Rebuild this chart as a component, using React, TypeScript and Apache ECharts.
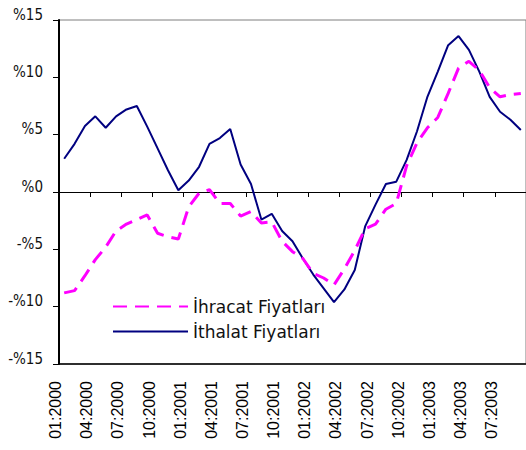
import React, { useEffect, useRef } from "react";
import * as echarts from "echarts";

const categories = [
  "01:2000","02:2000","03:2000","04:2000","05:2000","06:2000","07:2000","08:2000","09:2000","10:2000","11:2000","12:2000",
  "01:2001","02:2001","03:2001","04:2001","05:2001","06:2001","07:2001","08:2001","09:2001","10:2001","11:2001","12:2001",
  "01:2002","02:2002","03:2002","04:2002","05:2002","06:2002","07:2002","08:2002","09:2002","10:2002","11:2002","12:2002",
  "01:2003","02:2003","03:2003","04:2003","05:2003","06:2003","07:2003","08:2003","09:2003",
];

const ihracat = [
  -8.8, -8.6, -7.3, -5.9, -4.8, -3.4, -2.8, -2.4, -2.0, -3.6, -3.9, -4.1,
  -1.3, -0.1, 0.2, -1.0, -1.0, -2.1, -1.7, -2.7, -2.6, -4.3, -5.2, -5.8,
  -7.1, -7.5, -8.1, -6.7, -5.1, -3.2, -2.8, -1.5, -1.0, 2.3, 4.3, 5.6,
  6.5, 8.6, 10.8, 11.4, 10.6, 9.1, 8.3, 8.5, 8.6,
];

const ithalat = [
  2.9, 4.2, 5.75, 6.6, 5.6, 6.6, 7.2, 7.5, 5.7, 3.8, 1.9, 0.15,
  1.0, 2.2, 4.2, 4.7, 5.5, 2.4, 0.7, -2.4, -1.9, -3.4, -4.3, -5.8,
  -7.2, -8.4, -9.6, -8.5, -6.8, -3.0, -1.1, 0.7, 0.9, 2.8, 5.3, 8.3,
  10.5, 12.8, 13.6, 12.4, 10.5, 8.3, 7.0, 6.3, 5.4,
];

const seriesNames = ["İhracat Fiyatları", "İthalat Fiyatları"];
const yTicks = { min: -15, max: 15, interval: 5 };

export default function App() {
  const ref = useRef<HTMLDivElement>(null);
  useEffect(() => {
    if (!ref.current) return;
    const chart = echarts.init(ref.current, null, { renderer: "svg" });
    chart.setOption({
      animation: false,
      backgroundColor: "#ffffff",
      grid: {
        left: 59,
        top: 20,
        width: 469.5,
        height: 344,
        show: true,
        borderColor: "#7f7f7f",
        borderWidth: 1,
        backgroundColor: "transparent",
      },
      legend: {
        orient: "vertical",
        left: 107,
        top: 293,
        itemWidth: 75,
        itemHeight: 14,
        itemGap: 8,
        data: seriesNames,
        itemStyle: { opacity: 0, borderWidth: 0 },
        textStyle: {
          fontFamily: "'DejaVu Sans', sans-serif",
          fontSize: 17,
          color: "#111",
        },
      },
      xAxis: [
        {
          type: "category",
          data: categories,
          position: "bottom",
          boundaryGap: true,
          axisLine: { onZero: false, lineStyle: { color: "#000", width: 1.5 } },
          axisTick: { show: false },
          axisLabel: {
            interval: 2,
            rotate: 90,
            margin: 17,
            fontFamily: "'Liberation Sans', Arial, sans-serif",
            fontSize: 16,
            color: "#000",
            verticalAlign: "bottom",
            lineHeight: 17,
          },
          splitLine: { show: false },
        },
        {
          type: "category",
          data: categories,
          position: "top",
          boundaryGap: true,
          axisLine: { onZero: true, lineStyle: { color: "#000", width: 1 } },
          axisTick: {
            show: true,
            interval: 2,
            inside: true,
            length: 5,
            lineStyle: { color: "#000", width: 1 },
          },
          axisLabel: { show: false },
          splitLine: { show: false },
        },
      ],
      yAxis: {
        type: "value",
        min: yTicks.min,
        max: yTicks.max,
        interval: yTicks.interval,
        axisLine: { show: true, lineStyle: { color: "#000", width: 2 } },
        axisTick: { show: true, length: 6, lineStyle: { color: "#000", width: 1 } },
        splitLine: { show: false },
        axisLabel: {
          margin: 16,
          fontFamily: "'DejaVu Sans Condensed', 'DejaVu Sans', sans-serif",
          fontSize: 15,
          color: "#111",
          verticalAlign: "bottom",
          lineHeight: 11,
          formatter: (v: number) => (v >= 0 ? `%${v}` : `-%${-v}`),
        },
      },
      series: [
        {
          name: seriesNames[0],
          type: "line",
          data: ihracat,
          xAxisIndex: 0,
          showSymbol: false,
          symbol: "none",
          lineStyle: { color: "#ff00ff", width: 3, type: [14, 8] },
          itemStyle: { color: "#ff00ff" },
          z: 3,
        },
        {
          name: seriesNames[1],
          type: "line",
          data: ithalat,
          xAxisIndex: 0,
          showSymbol: false,
          symbol: "none",
          lineStyle: { color: "#000080", width: 2 },
          itemStyle: { color: "#000080" },
          z: 2,
        },
      ],
    });
    return () => chart.dispose();
  }, []);
  return (
    <div
      ref={ref}
      style={{ position: "fixed", left: 0, top: 0, width: 526, height: 450 }}
    />
  );
}
